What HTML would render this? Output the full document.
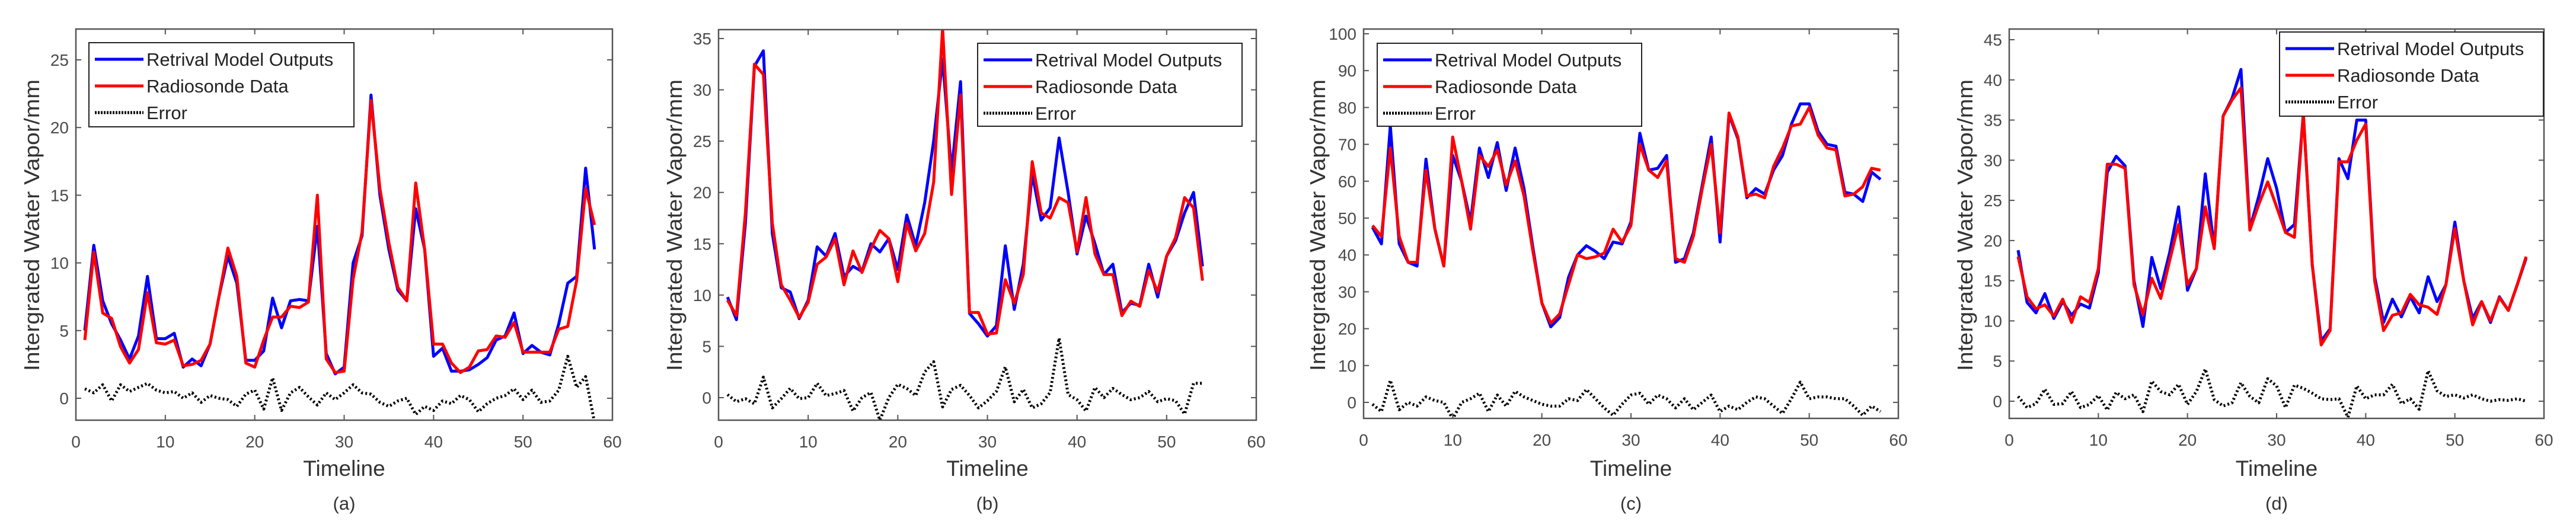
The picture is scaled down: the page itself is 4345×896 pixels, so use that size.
<!DOCTYPE html>
<html><head><meta charset="utf-8">
<style>
html,body{margin:0;padding:0;background:#fff;}
svg{display:block;font-family:"Liberation Sans",Arial,sans-serif;}
</style></head>
<body>
<svg id="chart" width="4345" height="896" viewBox="0 0 4345 896" xmlns="http://www.w3.org/2000/svg"></svg>
<script>
// ---- data ----
const xTickLabels = [0,10,20,30,40,50,60];
const panelLabels = ["(a)","(b)","(c)","(d)"];
const seriesNames = ["Retrival Model Outputs","Radiosonde Data","Error"];

const aModel = [5.0,11.3,7.2,5.5,4.3,2.9,4.6,9.0,4.4,4.4,4.8,2.3,2.9,2.4,4.0,7.5,10.5,8.5,2.8,2.8,3.5,7.4,5.2,7.2,7.3,7.2,12.7,3.3,1.8,2.3,10.0,12.0,22.4,15.0,11.0,8.0,7.2,14.0,11.0,3.1,3.7,2.0,2.0,2.1,2.5,3.0,4.3,4.6,6.3,3.3,3.9,3.4,3.2,5.5,8.5,9.0,17.0,11.0];
const aRadio = [4.3,10.8,6.3,5.9,3.8,2.6,3.6,7.8,4.1,4.0,4.3,2.4,2.5,2.8,4.0,7.5,11.1,9.0,2.6,2.3,4.3,6.0,6.0,6.8,6.7,7.1,15.0,2.9,1.9,2.0,8.8,12.3,22.0,15.5,11.5,8.2,7.2,15.9,11.0,4.0,4.0,2.6,1.9,2.3,3.5,3.6,4.6,4.5,5.6,3.4,3.4,3.4,3.4,5.1,5.3,8.7,15.5,12.8];
const aError = [0.7,0.4,1.0,-0.2,1.0,0.5,0.8,1.1,0.6,0.4,0.5,0.0,0.4,-0.3,0.2,0.0,-0.1,-0.6,0.3,0.6,-0.8,1.5,-0.9,0.4,0.8,0.1,-0.5,0.4,-0.1,0.4,1.0,0.4,0.3,-0.3,-0.6,-0.2,0.0,-1.2,-0.6,-0.9,-0.2,-0.4,0.2,-0.1,-1.0,-0.4,0.0,0.2,0.7,-0.1,0.6,-0.3,-0.2,0.6,3.1,0.8,1.6,-1.8];
const aYTicks = [0,5,10,15,20,25];

const bModel = [9.8,7.6,17,32.3,33.8,16,10.7,10.3,7.7,9.5,14.7,13.8,16,11.8,12.8,12.3,15,14.2,15.5,12.5,17.8,14.8,19,25,33,22,30.8,8.2,7.2,6.0,7.0,14.8,8.6,13,21.8,17.3,18.5,25.3,20,14,17.7,15,12,13,8.3,9.2,9.0,13,9.8,13.8,15.3,18,20,12.8];
const bRadio = [9.5,8.0,18,32.5,31.5,17,11,9.5,7.8,9.3,13,13.7,15.5,11,14.3,12.2,14.5,16.3,15.5,11.3,17,14.3,16,21,36,19.8,29.5,8.3,8.3,6.2,6.3,11.5,9.2,12,23,18,17.5,19.5,19,14.2,19.5,14,12,12,8,9.4,8.9,12.4,10.3,13.8,15.6,19.5,18.5,11.4];
const bError = [0.3,-0.4,-0.1,-0.6,2.0,-1.0,-0.1,0.9,-0.1,0.0,1.4,0.2,0.4,0.7,-1.3,0.0,0.5,-2.2,0.0,1.3,0.9,0.2,2.5,3.5,-0.9,0.8,1.2,0.2,-1.0,-0.3,0.6,3.0,-0.4,0.8,-1.0,-0.6,0.5,5.8,0.3,-0.2,-1.3,1.0,0.0,0.9,0.3,-0.2,0.0,0.6,-0.4,-0.1,-0.3,-1.6,1.4,1.4];
const bYTicks = [0,5,10,15,20,25,30,35];

const cModel = [47.5,43,75,43,38,37,66,47,37,67,60,49,69,61,70.5,57.5,69,58,42,27,20.5,23,34,40,42.5,41,39,43.5,43,49,73,63,63.5,67,38,39,46,59,72,43.5,78,71.5,55.5,58,56.5,63,67,75.5,81,81,73.5,70,69.5,57,56.5,54.5,62.5,60.5];
const cRadio = [48,45,69,45,38,38,63,47,37,72,60,47,67,64,68.5,59,65.5,56,41,27,21.5,24,32,40,39,39.5,40.5,47,43.5,48,70,63,61,65.5,39,38,45,58,70,46,78.5,72,56,56.5,55.5,64,69,75,75.5,80,72.5,69,68.5,56,56.5,58.5,63.5,63];
const cError = [-0.5,-2.5,6,-2,0,-1,1.5,0.5,0,-4.5,0,1,2.5,-2.5,2,-1,3,1.5,0.5,-0.5,-1,-1,1,0.5,3.5,1,-1.5,-3.5,-0.5,2,2.5,-0.5,2,1,-1.5,1,-2,0,2,-2.5,-1,-2,0,1.5,1,-1,-3,1,5.5,1,1.5,1.5,1,1,-1,-3.5,-1,-2.5];
const cYTicks = [0,10,20,30,40,50,60,70,80,90,100];

const dModel = [18.8,12.3,11,13.4,10.3,12.4,10.7,12.1,11.6,16,28.5,30.5,29.3,15,9.3,17.9,14,18.5,24.2,13.8,16.5,28.3,19,35.5,37.7,41.3,21.5,25.5,30.2,26.5,21,22,35.8,17,7.5,9,30.2,27.7,35,35,15.5,9.8,12.7,10.5,13,11,15.5,12.4,14.5,22.3,15,10.3,12.4,9.8,13,11.3,14.5,17.8];
const dRadio = [18,13,11.5,12,10.6,12.7,9.8,13,12.3,16.5,29.5,29.5,29,14.5,10.8,15.3,12.8,17.5,22,14.5,16.5,24.2,19,35.5,37.5,39,21.3,24.5,27.3,24.2,21,20.4,35.8,17,7,8.8,29.8,29.8,32.5,34.5,15,8.8,10.7,11,13.3,12,11.7,10.8,14.5,21.5,15,9.5,12.4,10,12.9,11.3,14.5,18];
const dError = [0.6,-0.8,-0.3,1.5,-0.4,-0.3,1.2,-0.8,-0.4,0.7,-1.1,1.1,0.3,0.8,-1.3,2.5,1.2,0.8,2.1,-0.4,1.2,4.0,0.2,-0.6,-0.2,2.3,0.6,-0.2,2.8,1.9,-0.8,2.0,1.6,1.0,0.3,0.2,0.3,-2.0,1.9,0.3,0.8,0.8,2.1,-0.3,0.3,-1.0,3.8,1.3,0.6,0.8,0.4,0.8,0.3,0.0,0.2,0.1,0.3,0.0];
const dYTicks = [0,5,10,15,20,25,30,35,40,45];

// ---- layout (pixel geometry, not data) ----
const layouts = [
  {left:128, right:1033, top:49, bottom:709, y0px:672, yRefVal:25, yRefPx:101, yMin:-1.62, legend:{x:150,y:72,w:447,h:142}, ylabX:53},
  {left:1212,right:2119, top:50, bottom:709, y0px:671, yRefVal:35, yRefPx:65, yMin:-2.2, legend:{x:1649,y:73,w:446,h:140}, ylabX:1137},
  {left:2300,right:3202, top:49, bottom:706, y0px:679, yRefVal:100,yRefPx:57, yMin:-4.3, legend:{x:2323,y:73,w:446,h:140}, ylabX:2222},
  {left:3389,right:4291, top:49, bottom:706, y0px:677, yRefVal:45, yRefPx:67, yMin:-2.1, legend:{x:3845,y:54,w:445,h:142}, ylabX:3314}
];
const panels = [
  {model:aModel, radio:aRadio, err:aError, yTicks:aYTicks},
  {model:bModel, radio:bRadio, err:bError, yTicks:bYTicks},
  {model:cModel, radio:cRadio, err:cError, yTicks:cYTicks},
  {model:dModel, radio:dRadio, err:dError, yTicks:dYTicks}
];

const NS = "http://www.w3.org/2000/svg";
const svg = document.getElementById("chart");
function mk(tag, attrs, parent){
  const e = document.createElementNS(NS, tag);
  for (const k in attrs) e.setAttribute(k, attrs[k]);
  (parent||svg).appendChild(e);
  return e;
}
const defs = mk("defs", {});

panels.forEach((p, i) => {
  const L = layouts[i];
  const xs = v => L.left + (v - 0) / 60 * (L.right - L.left);
  const ys = v => L.y0px - v * (L.y0px - L.yRefPx) / L.yRefVal;
  const g = mk("g", {});
  
  

  const cp = mk("clipPath", {id:"clip"+i}, defs);
  mk("rect", {x:L.left, y:L.top, width:L.right-L.left, height:L.bottom-L.top}, cp);

  // ticks
  const tg = mk("g", {stroke:"#555", "stroke-width":2}, g);
  
  
  xTickLabels.forEach(t => {
    const x = xs(t);
    mk("line", {x1:x, y1:L.bottom, x2:x, y2:L.bottom-9}, tg);
    mk("line", {x1:x, y1:L.top, x2:x, y2:L.top+9}, tg);
    const tx = mk("text", {x:x, y:L.bottom+46, "font-size":28, fill:"#4a4a4a", "text-anchor":"middle"}, g);
    tx.textContent = t;
    
    
  });
  p.yTicks.forEach(t => {
    const y = ys(t);
    mk("line", {x1:L.left, y1:y, x2:L.left+9, y2:y}, tg);
    mk("line", {x1:L.right, y1:y, x2:L.right-9, y2:y}, tg);
    const tx = mk("text", {x:L.left-12, y:y+10, "font-size":28, fill:"#4a4a4a", "text-anchor":"end"}, g);
    tx.textContent = t;
    
    
  });

  // series
  const pts = arr => arr.map((v,k) => xs(k+1).toFixed(1)+","+ys(v).toFixed(1)).join(" ");
  const sg = mk("g", {"clip-path":"url(#clip"+i+")", fill:"none", "stroke-linejoin":"round"}, g);
  const model = mk("polyline", {points:pts(p.model), stroke:"#0000ff", "stroke-width":5}, sg);
  
  
  const radio = mk("polyline", {points:pts(p.radio), stroke:"#ff0000", "stroke-width":5}, sg);
  
  
  const err = mk("polyline", {points:pts(p.err), stroke:"#000", "stroke-width":5, "stroke-dasharray":"3 4"}, sg);
  
  

  // box
  const box = mk("rect", {x:L.left, y:L.top, width:L.right-L.left, height:L.bottom-L.top, fill:"none", stroke:"#555", "stroke-width":2.5}, g);
  
  

  // legend
  const lg = mk("g", {}, g);
  
  
  const LG = L.legend;
  mk("rect", {x:LG.x, y:LG.y, width:LG.w, height:LG.h, fill:"#fff", stroke:"#222", "stroke-width":2}, lg);
  const cols = ["#0000ff","#ff0000","#000"];
  seriesNames.forEach((n, k) => {
    const cy = LG.y + 28 + k*45;
    const ln = mk("line", {x1:LG.x+10, x2:LG.x+92, y1:cy, y2:cy, stroke:cols[k], "stroke-width":5}, lg);
    if (k===2) ln.setAttribute("stroke-dasharray","3 2");
    
    
    const t = mk("text", {x:LG.x+97, y:cy+11, "font-size":31, fill:"#222"}, lg);
    t.textContent = n;
    
    
  });

  // axis titles
  const cx = (L.left + L.right)/2;
  const xt = mk("text", {x:cx, y:803, "font-size":37, fill:"#333", "text-anchor":"middle"}, g);
  xt.textContent = "Timeline";
  
  
  const yt = mk("text", {x:0, y:0, "font-size":36, fill:"#333", "text-anchor":"middle", textLength:492, lengthAdjust:"spacingAndGlyphs",
    transform:"translate("+(L.ylabX+13)+",380) rotate(-90)"}, g);
  yt.textContent = "Intergrated Water Vapor/mm";
  
  
  const pl = mk("text", {x:cx, y:860, "font-size":31, fill:"#333", "text-anchor":"middle"}, g);
  pl.textContent = panelLabels[i];
  
  
});
</script>
</body></html>
